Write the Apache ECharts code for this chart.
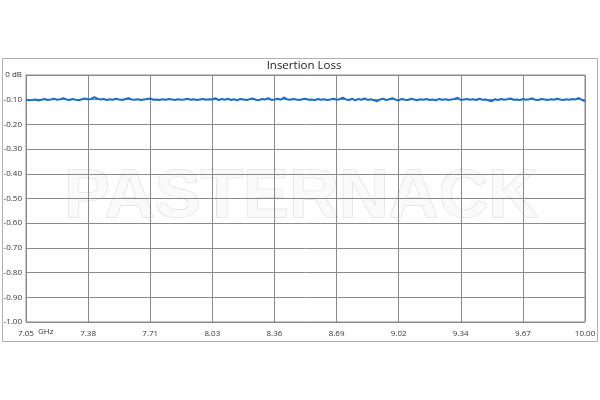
<!DOCTYPE html>
<html>
<head>
<meta charset="utf-8">
<script src="https://cdn.jsdelivr.net/npm/echarts@6/dist/echarts.min.js"></script>
<style>html,body{margin:0;padding:0;background:#fff}#c{width:600px;height:400px}</style>
</head>
<body>
<div id="c"></div>
<script>
const titleText = 'Insertion Loss';
const freqStart = 7.05;
const freqStop = 10.00;
const xTickLabels = ['7.05','7.38','7.71','8.03','8.36','8.69','9.02','9.34','9.67','10.00'];
const yTickLabels = ['0 dB','-0.10','-0.20','-0.30','-0.40','-0.50','-0.60','-0.70','-0.80','-0.90','-1.00'];
const lossValues = [
-0.100,-0.102,-0.101,-0.099,-0.103,-0.100,-0.097,-0.101,-0.099,-0.096,-0.100,-0.098,-0.094,-0.099,-0.101,-0.097,-0.100,-0.102,-0.098,-0.095,
-0.099,-0.097,-0.090,-0.096,-0.099,-0.097,-0.101,-0.098,-0.100,-0.096,-0.099,-0.101,-0.097,-0.094,-0.099,-0.100,-0.098,-0.101,-0.099,-0.097,
-0.095,-0.100,-0.099,-0.101,-0.098,-0.100,-0.097,-0.099,-0.101,-0.098,-0.100,-0.099,-0.096,-0.100,-0.098,-0.101,-0.099,-0.097,-0.100,-0.098,
-0.099,-0.094,-0.102,-0.097,-0.100,-0.096,-0.101,-0.098,-0.103,-0.097,-0.099,-0.101,-0.098,-0.095,-0.100,-0.102,-0.097,-0.099,-0.094,-0.101,
-0.099,-0.096,-0.100,-0.091,-0.098,-0.100,-0.097,-0.099,-0.101,-0.098,-0.096,-0.100,-0.099,-0.102,-0.097,-0.100,-0.098,-0.101,-0.099,-0.096,
-0.100,-0.098,-0.092,-0.099,-0.101,-0.096,-0.103,-0.097,-0.100,-0.095,-0.101,-0.098,-0.102,-0.107,-0.099,-0.096,-0.101,-0.098,-0.094,-0.100,
-0.103,-0.097,-0.100,-0.101,-0.096,-0.099,-0.102,-0.098,-0.100,-0.097,-0.101,-0.099,-0.103,-0.097,-0.100,-0.098,-0.101,-0.099,-0.097,-0.092,
-0.101,-0.099,-0.097,-0.100,-0.098,-0.101,-0.096,-0.100,-0.099,-0.103,-0.106,-0.098,-0.101,-0.097,-0.100,-0.098,-0.095,-0.100,-0.099,-0.102,
-0.097,-0.100,-0.098,-0.095,-0.100,-0.101,-0.097,-0.099,-0.101,-0.098,-0.100,-0.096,-0.099,-0.101,-0.098,-0.100,-0.097,-0.099,-0.093,-0.101,-0.107
];

const n = lossValues.length;
const step = (n - 1) / (xTickLabels.length - 1);
const categories = lossValues.map((v, i) => (freqStart + i * (freqStop - freqStart) / (n - 1)).toFixed(2));

const chart = echarts.init(document.getElementById('c'));
const gridColor = '#8a8a8a';
chart.setOption({
  backgroundColor: '#fff',
  animation: false,
  title: {
    text: titleText, left: 304, top: 60, textAlign: 'center', padding: 0,
    textStyle: { fontFamily: 'Open Sans', fontSize: 11.5, fontWeight: 'normal', color: '#222' }
  },
  grid: { left: 26, right: 15, top: 75, bottom: 78, show: true, borderColor: gridColor, borderWidth: 1 },
  xAxis: {
    type: 'category', data: categories, boundaryGap: false,
    axisLine: { show: true, lineStyle: { color: gridColor } },
    axisTick: { show: false },
    axisLabel: {
      interval: (i) => i % step === 0,
      formatter: (v, i) => xTickLabels[Math.round(i / step)],
      fontFamily: 'Open Sans', fontSize: 8, color: '#333', margin: 8
    },
    splitLine: { show: true, interval: (i) => i % step === 0, lineStyle: { color: gridColor, width: 1 } }
  },
  yAxis: {
    type: 'value', min: -1, max: 0, interval: 0.1,
    axisLine: { show: true, lineStyle: { color: gridColor } },
    axisTick: { show: false },
    axisLabel: {
      formatter: (v) => yTickLabels[Math.round(-v * 10)],
      fontFamily: 'Open Sans', fontSize: 8, color: '#333', margin: 4
    },
    splitLine: { show: true, lineStyle: { color: gridColor, width: 1 } }
  },
  graphic: [
    { type: 'rect', z: -10, shape: { x: 2.5, y: 58.5, width: 595, height: 283 }, style: { fill: 'none', stroke: '#b0b0b0', lineWidth: 1 } },
    { type: 'text', z: -5, x: 301, y: 198, style: { text: 'PASTERNACK', fontFamily: 'Liberation Sans', fontWeight: 'bold', fontSize: 69, fill: '#fafafa', stroke: '#d3d3d3', lineWidth: 1, textAlign: 'center', textVerticalAlign: 'middle' } },
    { type: 'text', x: 38, y: 328, style: { text: 'GHz', fontFamily: 'Open Sans', fontSize: 8, fill: '#333' } }
  ],
  series: [{
    type: 'line', data: lossValues, showSymbol: false, smooth: false,
    lineStyle: { color: '#1b6ec9', width: 2 }, z: 5
  }]
});
</script>
</body>
</html>
